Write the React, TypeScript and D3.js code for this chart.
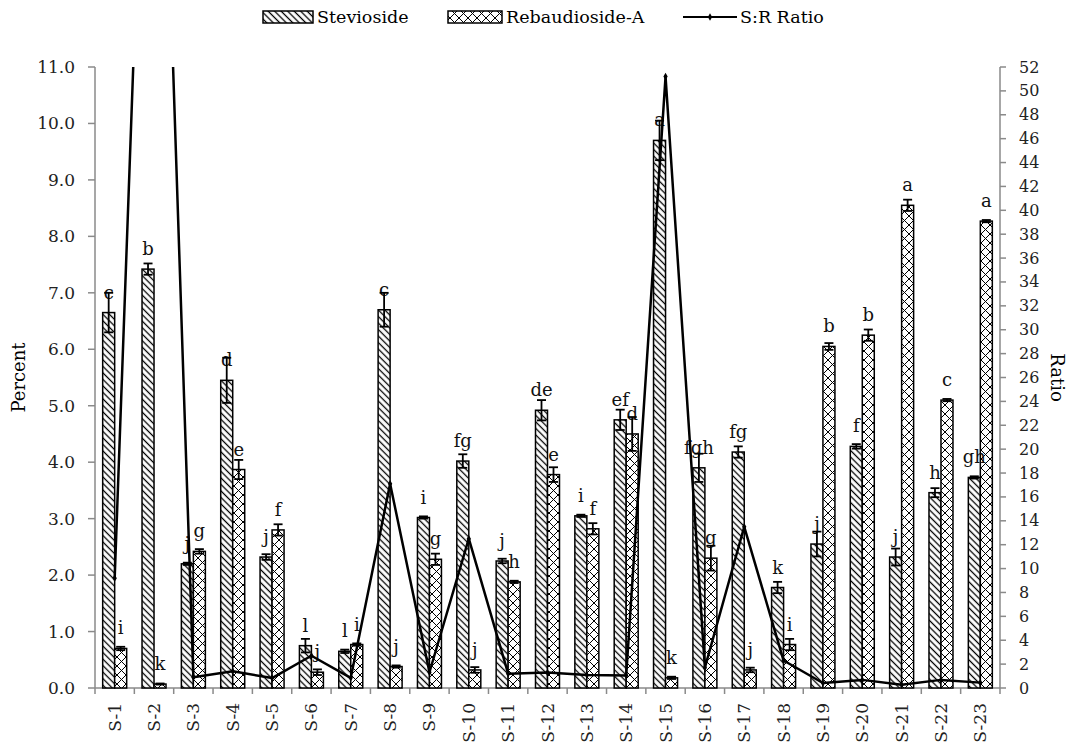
import React from 'react';
import * as d3 from 'd3';

const categories = ['S-1', 'S-2', 'S-3', 'S-4', 'S-5', 'S-6', 'S-7', 'S-8', 'S-9', 'S-10', 'S-11', 'S-12',
    'S-13', 'S-14', 'S-15', 'S-16', 'S-17', 'S-18', 'S-19', 'S-20', 'S-21', 'S-22', 'S-23'];

const stevioside = [6.65, 7.42, 2.2, 5.45, 2.32, 0.75, 0.65, 6.7, 3.02, 4.02, 2.25, 4.92, 3.05, 4.75, 9.7, 3.9, 4.18, 1.78, 2.55, 4.28, 2.32, 3.46, 3.73];
const steviosideErr = [0.35, 0.1, 0.02, 0.4, 0.05, 0.12, 0.03, 0.3, 0.02, 0.12, 0.04, 0.18, 0.02, 0.18, 0.35, 0.25, 0.1, 0.1, 0.22, 0.04, 0.15, 0.08, 0.02];
const steviosideLetters = ['c', 'b', 'j', 'd', 'j', 'l', 'l', 'c', 'i', 'fg', 'j', 'de', 'i', 'ef', 'a', 'fgh', 'fg', 'k', 'j', 'f', 'j', 'h', 'gh'];

const rebaudioside = [0.7, 0.07, 2.42, 3.87, 2.8, 0.28, 0.77, 0.38, 2.28, 0.32, 1.88, 3.78, 2.82, 4.5, 0.18, 2.3, 0.32, 0.77, 6.05, 6.25, 8.55, 5.1, 8.27];
const rebaudiosideErr = [0.03, 0.01, 0.04, 0.17, 0.1, 0.05, 0.02, 0.02, 0.1, 0.05, 0.02, 0.13, 0.1, 0.3, 0.02, 0.22, 0.04, 0.1, 0.06, 0.1, 0.1, 0.02, 0.02];
const rebaudiosideLetters = ['i', 'k', 'g', 'e', 'f', 'j', 'i', 'j', 'g', 'j', 'h', 'e', 'f', 'd', 'k', 'g', 'j', 'i', 'b', 'b', 'a', 'c', 'a'];

const srRatio = [9.2, 100, 0.9, 1.4, 0.83, 2.7, 0.85, 17.1, 1.32, 12.5, 1.2, 1.3, 1.08, 1.05, 51.2, 1.7, 13.5, 2.3, 0.42, 0.68, 0.27, 0.68, 0.45];

const percentTicks = [0, 1, 2, 3, 4, 5, 6, 7, 8, 9, 10, 11];
const ratioTicks = d3.range(0, 53, 2);

const W = 1074, H = 746;
const left = 95, right = 1000, top = 67, bottom = 688;
const FONT = '"DejaVu Serif", serif';
const AXIS = '#8a8a8a';

const App = () => {
    const x = d3.scaleBand().domain(categories).range([left, right]);
    const sub = d3.scaleBand().domain(['s', 'r']).range([0, x.bandwidth()]).paddingOuter(0.64);
    const y = d3.scaleLinear().domain([0, 11]).range([bottom, top]);
    const y2 = d3.scaleLinear().domain([0, 52]).range([bottom, top]);
    const bw = sub.bandwidth();
    const diamond = d3.symbol(d3.symbolDiamond, 16)()!;

    const line = d3.line<number>()
        .x((_, i) => x(categories[i])! + x.bandwidth() / 2)
        .y(d => y2(d));

    const series = [
        { key: 's', values: stevioside, err: steviosideErr, letters: steviosideLetters, fill: 'url(#stevHatch)' },
        { key: 'r', values: rebaudioside, err: rebaudiosideErr, letters: rebaudiosideLetters, fill: 'url(#rebCross)' },
    ];

    return (
        <svg width={W} height={H} style={{ position: 'absolute', left: 0, top: 0, background: '#fff' }} fontFamily={FONT}>
            <defs>
                <pattern id="stevHatch" patternUnits="userSpaceOnUse" width="4.6" height="4.6" patternTransform="rotate(-45)">
                    <rect width="4.6" height="4.6" fill="#fff" />
                    <line x1="2.3" y1="0" x2="2.3" y2="4.6" stroke="#000" strokeWidth="1.3" />
                </pattern>
                <pattern id="rebCross" patternUnits="userSpaceOnUse" width="9" height="9">
                    <rect width="9" height="9" fill="#fff" />
                    <path d="M0,0L9,9M9,0L0,9" stroke="#000" strokeWidth="1" />
                </pattern>
                <clipPath id="plotClip">
                    <rect x={left} y={top} width={right - left} height={bottom - top} />
                </clipPath>
            </defs>

            {/* legend */}
            <g fontSize="17.5">
                <rect x={263} y={11} width={50} height={12} fill="url(#stevHatch)" stroke="#000" strokeWidth="1.5" />
                <text x={317} y={23}>Stevioside</text>
                <rect x={448} y={11} width={54} height={12} fill="url(#rebCross)" stroke="#000" strokeWidth="1.5" />
                <text x={506} y={23}>Rebaudioside-A</text>
                <line x1={683} x2={737} y1={17} y2={17} stroke="#000" strokeWidth="2" />
                <path d={diamond} transform="translate(710,17)" fill="#000" />
                <text x={740} y={23}>S:R Ratio</text>
            </g>

            {/* axes */}
            <g stroke={AXIS} strokeWidth="1.5">
                <line x1={left} x2={left} y1={top} y2={bottom} />
                <line x1={right} x2={right} y1={top} y2={bottom} />
                <line x1={left} x2={right} y1={bottom} y2={bottom} />
                {percentTicks.map(t => <line key={'lt' + t} x1={left - 7} x2={left} y1={y(t)} y2={y(t)} />)}
                {ratioTicks.map(t => <line key={'rt' + t} x1={right} x2={right + 6} y1={y2(t)} y2={y2(t)} />)}
                {categories.map(c => <line key={'xt' + c} x1={x(c)!} x2={x(c)!} y1={bottom} y2={bottom + 6} />)}
                <line x1={right} x2={right} y1={bottom} y2={bottom + 6} />
            </g>
            <g fontSize="17" fill="#222">
                {percentTicks.map(t => (
                    <text key={'ll' + t} x={left - 20} y={y(t)} textAnchor="end" dominantBaseline="central">{d3.format('.1f')(t)}</text>
                ))}
            </g>
            <g fontSize="16" fill="#222">
                {ratioTicks.map(t => (
                    <text key={'rl' + t} x={right + 19} y={y2(t)} dominantBaseline="central">{t}</text>
                ))}
            </g>
            <g fontSize="17" fill="#222">
                {categories.map(c => (
                    <text key={'xl' + c} transform={`translate(${x(c)! + x.bandwidth() / 2},${bottom + 15}) rotate(-90)`}
                        textAnchor="end" dominantBaseline="central">{c}</text>
                ))}
            </g>
            <text transform={`translate(18,${(top + bottom) / 2}) rotate(-90)`} textAnchor="middle" dominantBaseline="central" fontSize="18">Percent</text>
            <text transform={`translate(1057,${(top + bottom) / 2}) rotate(90)`} textAnchor="middle" dominantBaseline="central" fontSize="18">Ratio</text>

            {/* bars */}
            {series.map(s => (
                <g key={s.key}>
                    {s.values.map((v, i) => {
                        const bx = x(categories[i])! + sub(s.key)!;
                        return (
                            <rect key={i} x={bx} y={y(v)} width={bw} height={bottom - y(v)}
                                fill={s.fill} stroke="#000" strokeWidth="1.5" />
                        );
                    })}
                </g>
            ))}

            {/* letters */}
            <g fontSize="18" fill="#111" textAnchor="middle">
                {series.map(s => s.values.map((v, i) => (
                    <text key={s.key + i} x={x(categories[i])! + sub(s.key)! + bw / 2} y={y(v) - 14}>{s.letters[i]}</text>
                )))}
            </g>

            {/* error bars */}
            <g stroke="#000" strokeWidth="1.8">
                {series.map(s => s.values.map((v, i) => {
                    const cx = x(categories[i])! + sub(s.key)! + bw / 2;
                    const hi = y(v + s.err[i]);
                    const lo = y(v - s.err[i]);
                    return (
                        <g key={s.key + i}>
                            <line x1={cx} x2={cx} y1={hi} y2={lo} />
                            <line x1={cx - 4.5} x2={cx + 4.5} y1={hi} y2={hi} />
                            <line x1={cx - 4.5} x2={cx + 4.5} y1={lo} y2={lo} />
                        </g>
                    );
                }))}
            </g>

            {/* ratio line */}
            <g clipPath="url(#plotClip)">
                <path d={line(srRatio)!} fill="none" stroke="#000" strokeWidth="2.5" strokeLinejoin="round" />
                {srRatio.map((r, i) => (
                    <path key={i} d={diamond}
                        transform={`translate(${x(categories[i])! + x.bandwidth() / 2},${y2(r)})`} fill="#000" />
                ))}
            </g>
        </svg>
    );
};

export default App;
